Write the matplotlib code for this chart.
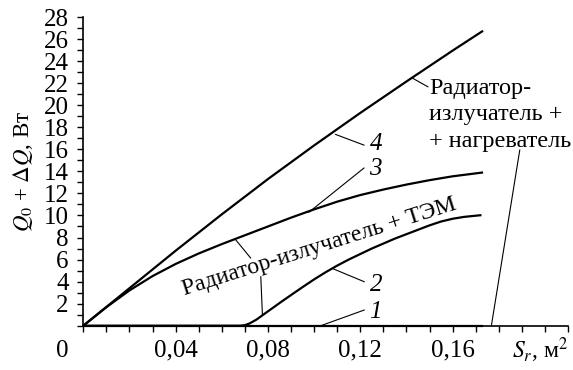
import matplotlib
matplotlib.use("Agg")
import matplotlib.pyplot as plt
from matplotlib.ticker import MultipleLocator, FixedLocator

plt.rcParams["font.family"] = ["Liberation Serif", "DejaVu Serif"]
plt.rcParams["mathtext.fontset"] = "stix"

# --------------------------------------------------
# Data: heat load vs. radiator area S_r
# --------------------------------------------------
# curve 1 - lies on the axis
s1 = [0.0, 0.05, 0.10, 0.173]
q1 = [0.0, 0.0, 0.0, 0.0]

# curve 2 - radiator + TEM, starts at ~0.07 m2
s2 = [0.0, 0.068, 0.070, 0.072, 0.075, 0.0783, 0.082, 0.086, 0.09, 0.095, 0.10,
      0.105, 0.11, 0.115, 0.12, 0.125, 0.13, 0.135, 0.14, 0.145, 0.15, 0.155,
      0.16, 0.165, 0.1725]
q2 = [0.0, 0.0, 0.05, 0.2, 0.55, 1.05, 1.6, 2.2, 2.78, 3.5, 4.2,
      4.85, 5.45, 6.0, 6.5, 7.0, 7.45, 7.9, 8.3, 8.7, 9.1, 9.45,
      9.7, 9.87, 10.03]

# curve 3
s3 = [0.0, 0.01, 0.02, 0.03, 0.04, 0.05, 0.06, 0.07, 0.08, 0.09, 0.10,
      0.11, 0.12, 0.13, 0.14, 0.15, 0.16, 0.1732]
q3 = [0.0, 1.68, 3.2, 4.5, 5.6, 6.55, 7.4, 8.2, 9.0, 9.8, 10.55,
      11.25, 11.85, 12.35, 12.8, 13.2, 13.55, 13.9]

# curve 4 - radiator + heater
s4 = [0.0, 0.02, 0.04, 0.06, 0.08, 0.10, 0.12, 0.14, 0.16, 0.1732]
q4 = [0.0, 3.4, 6.8, 10.1, 13.3, 16.35, 19.3, 22.15, 24.95, 26.75]

y_ticks = [2, 4, 6, 8, 10, 12, 14, 16, 18, 20, 22, 24, 26, 28]
x_ticks = [0.04, 0.08, 0.12, 0.16]
x_tick_labels = ["0,04", "0,08", "0,12", "0,16"]

# --------------------------------------------------
# Figure
# --------------------------------------------------
fig = plt.figure(figsize=(5.73, 3.70), dpi=100)
ax = fig.add_axes([83.3 / 573, (370 - 325.7) / 370, (568 - 83.3) / 573, (325.7 - 17) / 370])

lw = 1.6
for s, q in [(s1, q1), (s2, q2), (s3, q3), (s4, q4)]:
    ax.plot(s, q, color="black", lw=lw, solid_capstyle="butt",
            solid_joinstyle="round", clip_on=False)

ax.set_xlim(0, 0.21)
ax.set_ylim(0, 28)

ax.spines["top"].set_visible(False)
ax.spines["right"].set_visible(False)
ax.spines["left"].set_linewidth(1.2)
ax.spines["bottom"].set_linewidth(1.2)

ax.yaxis.set_major_locator(FixedLocator(y_ticks))
ax.yaxis.set_minor_locator(MultipleLocator(1))
ax.xaxis.set_major_locator(FixedLocator(x_ticks))
ax.xaxis.set_minor_locator(MultipleLocator(0.01))
ax.set_xticklabels(x_tick_labels)

ax.tick_params(axis="y", which="both", direction="out", length=4.5, width=1.0, pad=6, labelsize=18)
ax.tick_params(axis="x", which="both", direction="out", length=4, width=1.0, pad=6, labelsize=18)

# origin label and axis titles
fig.text(62 / 573, 1 - 351 / 370, "0", ha="center", va="center", fontsize=18)
fig.text(568 / 573, 1 - 358 / 370, r"$S_r$, м$^2$", ha="right", va="baseline", fontsize=17)
ax.set_ylabel(r"$Q_0$ + $\Delta Q$, Вт", fontsize=16.5)
ax.yaxis.set_label_coords(-0.1, 0.5)

# --------------------------------------------------
# Curve numbers with leader lines
# --------------------------------------------------
thin = 0.8
leaders = [
    ([0.1093, 0.1216], [17.35, 16.38]),   # 4
    ([0.0978, 0.1216], [10.3, 14.3]),     # 3
    ([0.1085, 0.1217], [5.14, 3.99]),     # 2
    ([0.1029, 0.1217], [0.0, 1.42]),      # 1
    ([0.0660, 0.0725], [7.8, 6.14]),      # text -> curve 3
    ([0.0769, 0.0776], [4.44, 1.0]),      # text -> curve 2
    ([0.1428, 0.1493], [22.43, 21.67]),   # heater text -> curve 4
    ([0.1891, 0.1768], [15.93, 0.0]),     # heater text -> curve 1
]
for lx, ly in leaders:
    ax.plot(lx, ly, color="black", lw=thin, clip_on=False)

num_kw = dict(fontsize=18, fontstyle="italic", ha="left", va="center")
ax.text(0.1240, 16.5, "4", **num_kw)
ax.text(0.1240, 14.2, "3", **num_kw)
ax.text(0.1240, 3.7, "2", **num_kw)
ax.text(0.1240, 1.25, "1", **num_kw)

ax.text(0.1022, 7.16, "Радиатор-излучатель + ТЭМ", fontsize=17, rotation=17.5,
        rotation_mode="anchor", ha="center", va="center")

ax.text(0.1499, 21.0, "Радиатор-", fontsize=17.5, ha="left", va="baseline")
ax.text(0.1499, 18.65, "излучатель +", fontsize=17.5, ha="left", va="baseline")
ax.text(0.1499, 16.23, "+ нагреватель", fontsize=17.5, ha="left", va="baseline")

fig.savefig("out.png", dpi=100)
